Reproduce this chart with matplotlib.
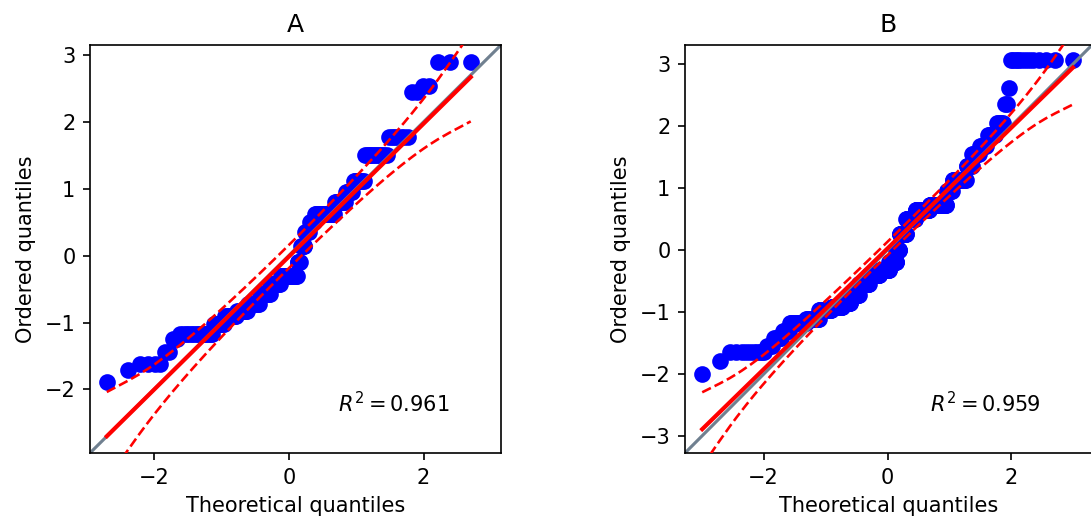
import numpy as np
import matplotlib
matplotlib.use("Agg")
import matplotlib.pyplot as plt
from statistics import NormalDist

# ---------------- data ----------------
titles = ["A", "B"]
r2_labels = ["0.961", "0.959"]

# sorted observed values as (level, number of points at that level)
a_levels = [-1.89, -1.71, -1.62, -1.44, -1.24, -1.17, -1.02, -0.90, -0.82, -0.72,
            -0.57, -0.42, -0.30, -0.10, 0.15, 0.35, 0.50, 0.62, 0.80, 0.95,
            1.12, 1.50, 1.78, 2.44, 2.54, 2.90]
a_counts = [1, 1, 4, 2, 2, 16, 8, 10, 10, 12,
            12, 12, 20, 4, 5, 5, 6, 20, 10, 6,
            8, 12, 7, 2, 2, 3]

b_levels = [-1.99, -1.79, -1.65, -1.55, -1.42, -1.30, -1.17, -1.12, -0.97, -0.92,
            -0.85, -0.72, -0.55, -0.40, -0.33, -0.20, 0.00, 0.25, 0.50, 0.64,
            0.72, 0.95, 1.12, 1.35, 1.55, 1.68, 1.85, 2.05, 2.35, 2.60, 3.06]
b_counts = [1, 1, 10, 4, 6, 6, 19, 20, 24, 25,
            21, 24, 30, 33, 31, 23, 10, 21, 28, 38,
            40, 11, 23, 8, 9, 7, 7, 5, 2, 1, 12]

# regression line (slope, intercept)
fit_slopes = [0.994, 0.973]
fit_intercepts = [-0.015, 0.025]

axis_limits = [(-2.95, 3.15), (-3.27, 3.30)]

# ---------------- helpers ----------------
_nd = NormalDist()


def theoretical_quantiles(n):
    # Filliben's estimate (as in scipy.stats.probplot)
    m = np.empty(n)
    m[-1] = 0.5 ** (1.0 / n)
    m[0] = 1 - m[-1]
    i = np.arange(2, n)
    m[1:-1] = (i - 0.3175) / (n + 0.365)
    return np.array([_nd.inv_cdf(p) for p in m])


def qqplot(ax, observed, slope, intercept, lims, r2_text, title):
    observed = np.sort(np.asarray(observed, dtype=float))
    n = observed.size
    theor = theoretical_quantiles(n)
    fit_val = slope * theor + intercept

    ax.plot(theor, observed, "o", color="blue", markersize=7, zorder=2)
    lo, hi = lims
    ax.plot([lo, hi], [lo, hi], color="slategrey", lw=1.5, zorder=2.5)
    ax.plot(theor, fit_val, "r-", lw=2, zorder=3)

    # 95% confidence envelope
    P = (np.arange(1, n + 1) - 0.5) / n
    crit = _nd.inv_cdf(0.975)
    pdf = np.array([_nd.pdf(t) for t in theor])
    se = (slope / pdf) * np.sqrt(P * (1 - P) / n)
    ax.plot(theor, fit_val + crit * se, "r--", lw=1.25, zorder=3)
    ax.plot(theor, fit_val - crit * se, "r--", lw=1.25, zorder=3)

    ax.set_xlim(lims)
    ax.set_ylim(lims)
    ax.set_xlabel("Theoretical quantiles")
    ax.set_ylabel("Ordered quantiles")
    ax.set_title(title)
    ax.text(0.875, 0.10, r"$R^2=%s$" % r2_text, ha="right", transform=ax.transAxes)


# ---------------- figure ----------------
fig = plt.figure(figsize=(1091 / 150, 519 / 150), dpi=150)
ax_a = fig.add_axes([90 / 1091, 66 / 519, 411 / 1091, 408 / 519])
ax_b = fig.add_axes([685 / 1091, 66 / 519, 407 / 1091, 408 / 519])

obs_a = np.repeat(a_levels, a_counts)
obs_b = np.repeat(b_levels, b_counts)

qqplot(ax_a, obs_a, fit_slopes[0], fit_intercepts[0], axis_limits[0], r2_labels[0], titles[0])
qqplot(ax_b, obs_b, fit_slopes[1], fit_intercepts[1], axis_limits[1], r2_labels[1], titles[1])

fig.savefig("out.png", dpi=150)
